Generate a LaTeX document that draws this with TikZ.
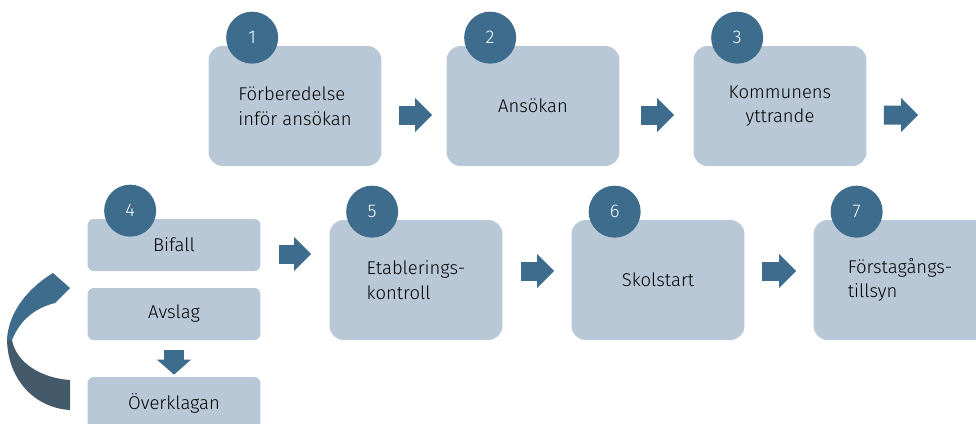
\documentclass[tikz,border=0pt]{standalone}
\usepackage{fontspec}
\setmainfont{Fira Sans Light}
\usepackage{tikz}
\usetikzlibrary{arrows.meta,positioning,calc}
\definecolor{boxgray}{RGB}{185,200,214}
\definecolor{numblue}{RGB}{61,108,140}
\definecolor{darkslate}{RGB}{68,90,107}

\begin{document}
\begin{tikzpicture}[
                x=0.02cm, y=-0.02cm,
                font=\fontsize{10.5}{14}\selectfont,
                stepbox/.style={rectangle, fill=boxgray, rounded corners=8pt, minimum width=3.46cm, minimum height=2.4cm, align=center, inner sep=0pt},
                smallbox/.style={stepbox, minimum height=1.04cm, rounded corners=3.5pt},
                num/.style={circle, fill=numblue, text=white, minimum size=1.04cm, inner sep=0pt},
                arr/.style={-{Triangle[length=0.34cm, width=0.68cm, line width=0pt]}, line width=0.38cm, numblue},
            ]
            \useasboundingbox (0,0) rectangle (976,423);
            \clip (0,0) rectangle (976,423);

            \node[stepbox, align=left]   (s1) at (295,106) {Förberedelse\\inför ansökan};
            \node[stepbox]               (s2) at (533,106) {Ansökan};
            \node[stepbox]               (s3) at (780,106) {Kommunens\\yttrande};
            \node[smallbox]              (s4) at (174,245) {Bifall};
            \node[smallbox]              (s4b) at (174,314) {Avslag};
            \node[smallbox]              (s4c) at (174,403) {Överklagan};
            \node[stepbox, align=left]   (s5) at (416,280) {Etablerings-\\kontroll};
            \node[stepbox]               (s6) at (658,280) {Skolstart};
            \node[stepbox, align=left]   (s7) at (900,280) {Förstagångs-\\tillsyn};

            \node[num] (n1) at ([xshift=0.88cm,yshift=0.16cm]s1.north west) {1};
            \node[num] (n2) at ([xshift=0.88cm,yshift=0.16cm]s2.north west) {2};
            \node[num] (n3) at ([xshift=0.88cm,yshift=0.16cm]s3.north west) {3};
            \node[num] (n4) at ([xshift=0.86cm,yshift=0.16cm]s4.north west) {4};
            \node[num] (n5) at ([xshift=0.86cm,yshift=0.16cm]s5.north west) {5};
            \node[num] (n6) at ([xshift=0.87cm,yshift=0.16cm]s6.north west) {6};
            \node[num] (n7) at ([xshift=0.87cm,yshift=0.16cm]s7.north west) {7};
            \coordinate (c3) at (918,115);

            \draw[arr, shorten <=0.34cm, shorten >=0.28cm] ([yshift=-0.18cm]s1.east) -- ([yshift=-0.18cm]s2.west);
            \draw[arr, shorten <=0.42cm, shorten >=0.38cm] ([yshift=-0.18cm]s2.east) -- ([yshift=-0.18cm]s3.west);
            \draw[arr, shorten <=0.34cm] ([yshift=-0.18cm]s3.east) -- (c3);
            \draw[arr, shorten <=0.36cm, shorten >=0.36cm] ([yshift=-0.18cm]s4.east) -- ([yshift=-0.18cm]s4.east -| s5.west);
            \draw[arr, shorten <=0.36cm, shorten >=0.34cm] ([yshift=0.18cm]s5.east) -- ([yshift=0.18cm]s6.west);
            \draw[arr, shorten <=0.34cm, shorten >=0.34cm] ([yshift=0.18cm]s6.east) -- ([yshift=0.18cm]s7.west);
            \draw[arr, line width=0.4cm, -{Triangle[length=0.3cm, width=0.68cm, line width=0pt]}, shorten <=0.2cm, shorten >=0.04cm] (s4b.south) -- (s4c.north);

            \fill[numblue] (53,273) .. controls (25,290) and (8,315) .. (7,340) -- (12,340) .. controls (20,320) and (35,308) .. (55,303) -- (70,288) -- cycle;
            \fill[darkslate] (7,340) .. controls (8,380) and (35,408) .. (70,410) -- (70,380) .. controls (40,378) and (16,362) .. (12,340) -- cycle;
        \end{tikzpicture}
\end{document}
